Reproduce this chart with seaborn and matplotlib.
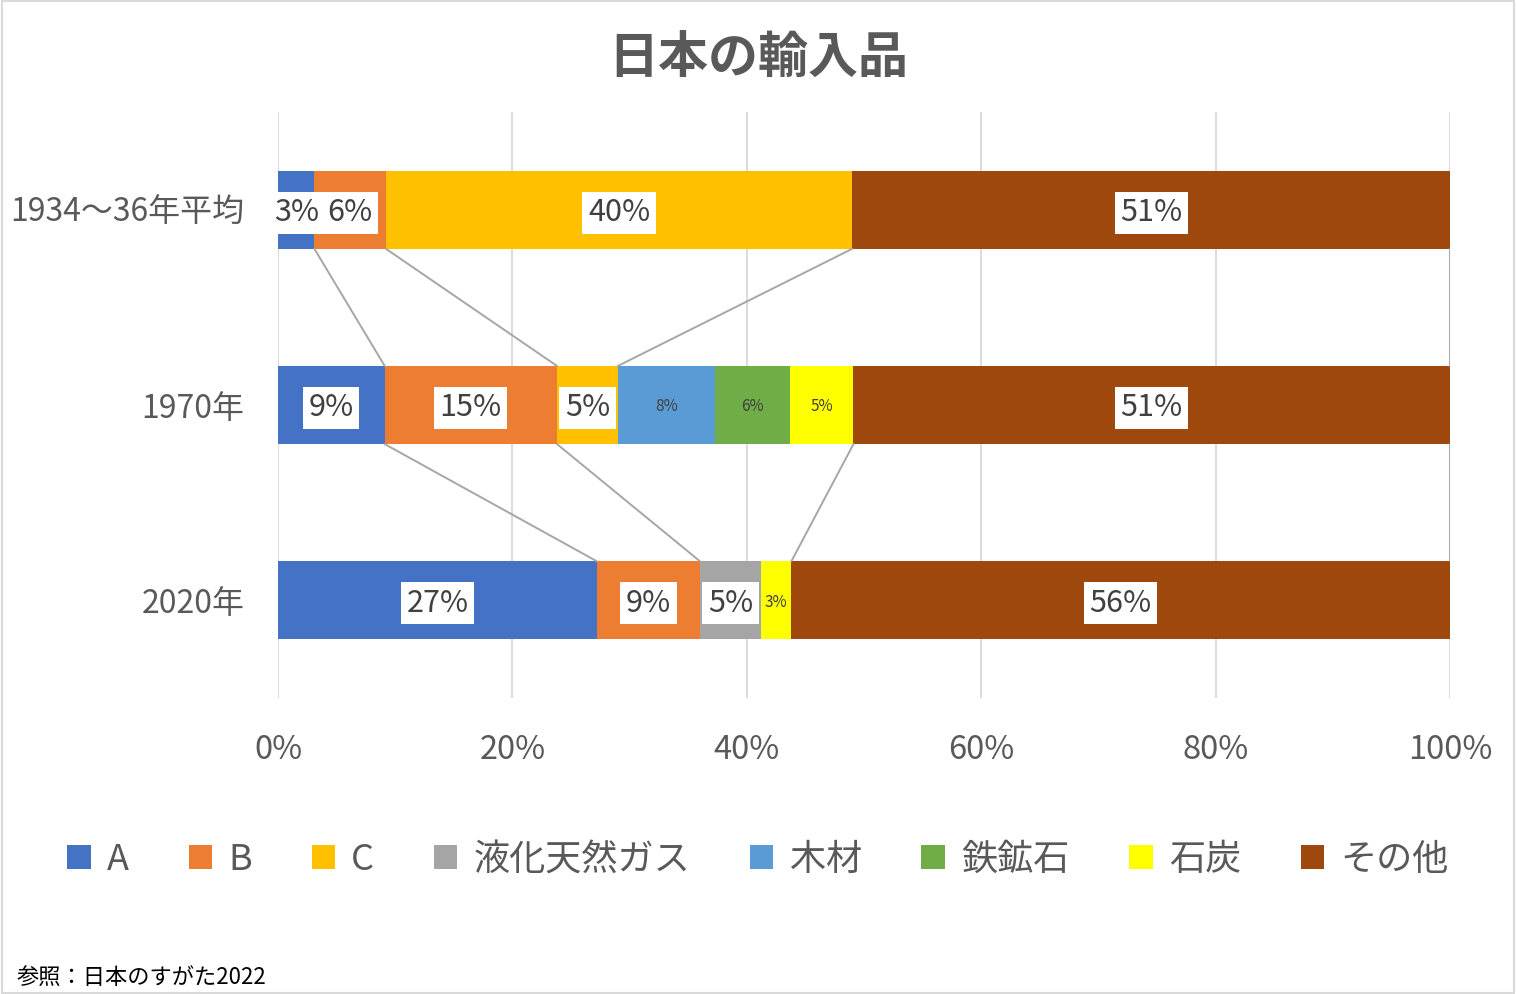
import numpy as np
import pandas as pd
import matplotlib.pyplot as plt
from matplotlib.patches import Patch, Rectangle
import seaborn as sns

years = ['1934～36年平均', '1970年', '2020年']
series = ['A', 'B', 'C', '液化天然ガス', '木材', '鉄鉱石', '石炭', 'その他']
colors = ['#4472C4', '#ED7D31', '#FFC000', '#A5A5A5', '#5B9BD5', '#70AD47', '#FFFF00', '#9E480E']

# share (%) per year, NaN = not in the list that year
val_a = [3.1, 9.1, 27.2]
val_b = [6.1, 14.7, 8.8]
val_c = [39.8, 5.2, np.nan]
val_lng = [np.nan, np.nan, 5.2]
val_wood = [np.nan, 8.3, np.nan]
val_iron = [np.nan, 6.4, np.nan]
val_coal = [np.nan, 5.4, 2.6]
val_other = [51.0, 50.9, 56.2]
# labels drawn small without a white box
small_labels = {('1970年', '木材'), ('1970年', '鉄鉱石'), ('1970年', '石炭'), ('2020年', '石炭')}

table = pd.DataFrame([val_a, val_b, val_c, val_lng, val_wood, val_iron, val_coal, val_other],
                     index=series, columns=years)
cum = table.fillna(0).cumsum()

rows = []
for s in series:
    for y in years:
        if not np.isnan(table.loc[s, y]):
            rows.append({'year': y, 'series': s, 'value': table.loc[s, y], 'cum': cum.loc[s, y]})
df = pd.DataFrame(rows)

sns.set_style('white')
plt.rcParams['font.family'] = ['Noto Sans CJK JP', 'DejaVu Sans']
text_col = '#595959'

fig = plt.figure(figsize=(15.16, 9.94), dpi=100)
ax = fig.add_axes([0.1834, 0.2978, 0.7731, 0.5895])

# stacked bars: draw cumulative ends, last series first
for s, c in reversed(list(zip(series, colors))):
    sub = df[df['series'] == s]
    sns.barplot(data=sub, x='cum', y='year', order=years, color=c, saturation=1,
                width=0.4, errorbar=None, linewidth=0, orient='h', ax=ax)

# series lines between neighbouring bars
for s in series:
    for i in range(len(years) - 1):
        v0, v1 = table.loc[s, years[i]], table.loc[s, years[i + 1]]
        if np.isnan(v0) or np.isnan(v1):
            continue
        ax.plot([cum.loc[s, years[i]], cum.loc[s, years[i + 1]]], [i + 0.2, i + 0.8],
                color='#A6A6A6', lw=1.4, zorder=1.5)

# data labels
for _, r in df.iterrows():
    i = years.index(r['year'])
    xc = r['cum'] - r['value'] / 2
    lab = f"{r['value']:.0f}%"
    if (r['year'], r['series']) in small_labels:
        ax.text(xc, i + 0.01, lab, ha='center', va='center', fontsize=11, color='#404040', zorder=5)
    else:
        ax.text(xc, i + 0.015, lab, ha='center', va='center', fontsize=22, color='#404040', zorder=5,
                bbox=dict(boxstyle='square,pad=0.18', fc='white', ec='none'))

ax.set_xlim(0, 100)
ax.set_ylim(2.5, -0.5)
ax.set_xticks(range(0, 101, 20))
ax.set_xticklabels([f'{t}%' for t in range(0, 101, 20)])
ax.set_xlabel('')
ax.set_ylabel('')
ax.grid(axis='x', color='#D9D9D9', lw=1.3)
ax.set_axisbelow(True)
for sp in ax.spines.values():
    sp.set_visible(False)
ax.tick_params(axis='x', length=0, labelsize=23.5, labelcolor=text_col, pad=26)
ax.tick_params(axis='y', length=0, labelsize=23, labelcolor=text_col, pad=24)

fig.text(0.5, 0.94, '日本の輸入品', ha='center', va='center', fontsize=36,
         fontweight='bold', color=text_col)

handles = [Patch(facecolor=c, edgecolor='none') for c in colors]
fig.legend(handles, series, loc='center', bbox_to_anchor=(0.5, 0.135), ncol=8,
           frameon=False, fontsize=26, labelcolor=text_col, handlelength=0.65,
           handleheight=0.65, handletextpad=0.45, columnspacing=1.65)

fig.text(0.011, 0.017, '参照：日本のすがた2022', ha='left', va='center', fontsize=16, color='black')

fig.patches.append(Rectangle((0.001, 0.001), 0.998, 0.998, transform=fig.transFigure,
                             fill=False, ec='#D9D9D9', lw=1.5))

fig.savefig('out.png', dpi=100)
